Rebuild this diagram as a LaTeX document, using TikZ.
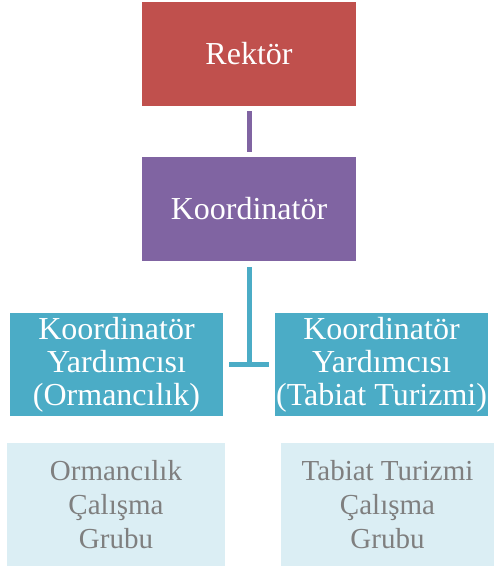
\documentclass[tikz,border=0pt]{standalone}
\usepackage{fontspec}
\setmainfont{Liberation Serif}
\usepackage{xcolor}
\definecolor{rektorred}{HTML}{C0504D}
\definecolor{koordpurple}{HTML}{8064A2}
\definecolor{yardteal}{HTML}{4BACC6}
\definecolor{grupblue}{HTML}{DBEEF4}
\definecolor{grupgray}{HTML}{7F7F7F}
\begin{document}
\begin{tikzpicture}[x=1pt,y=1pt,
    box/.style={inner sep=0pt, align=center, text=white,
      font=\fontsize{32}{33}\selectfont},
    mainbox/.style={box, minimum width=214pt, minimum height=104pt},
    yardbox/.style={box, fill=yardteal, minimum width=213pt, minimum height=103pt},
    grupbox/.style={box, fill=grupblue, text=grupgray, minimum height=123pt,
      font=\fontsize{29}{34}\selectfont},
    link/.style={line width=5pt}]
    % Sayfa sinirlari
    \useasboundingbox (0,0) rectangle (494,568);

    % Rektor ve koordinator
    \node[mainbox, fill=rektorred] (rektor) at (249,514) {Rektör};
    \node[mainbox, fill=koordpurple] (koord) at (249,359) {Koordinatör};

    % Koordinator yardimcilari
    \node[yardbox] (yardorm) at (116.5,203.5) {Koordinatör\\Yardımcısı\\(Ormancılık)};
    \node[yardbox] (yardtab) at (381.5,203.5) {Koordinatör\\Yardımcısı\\(Tabiat Turizmi)};

    % Calisma gruplari
    \node[grupbox, minimum width=218pt] (grupcorm) at (116,63.5) {Ormancılık\\Çalışma\\Grubu};
    \node[grupbox, minimum width=213pt] (gruptab) at (387.5,63.5) {Tabiat Turizmi\\Çalışma\\Grubu};

    % Baglantilar
    \draw[link, koordpurple] ([yshift=-5pt]rektor.south) -- ([yshift=5pt]koord.north);
    \draw[link, yardteal] ([yshift=-6pt]koord.south) -- (koord.south |- yardorm.east);
    \draw[link, yardteal] ([xshift=6pt]yardorm.east) -- ([xshift=-6pt]yardtab.west);
\end{tikzpicture}
\end{document}
